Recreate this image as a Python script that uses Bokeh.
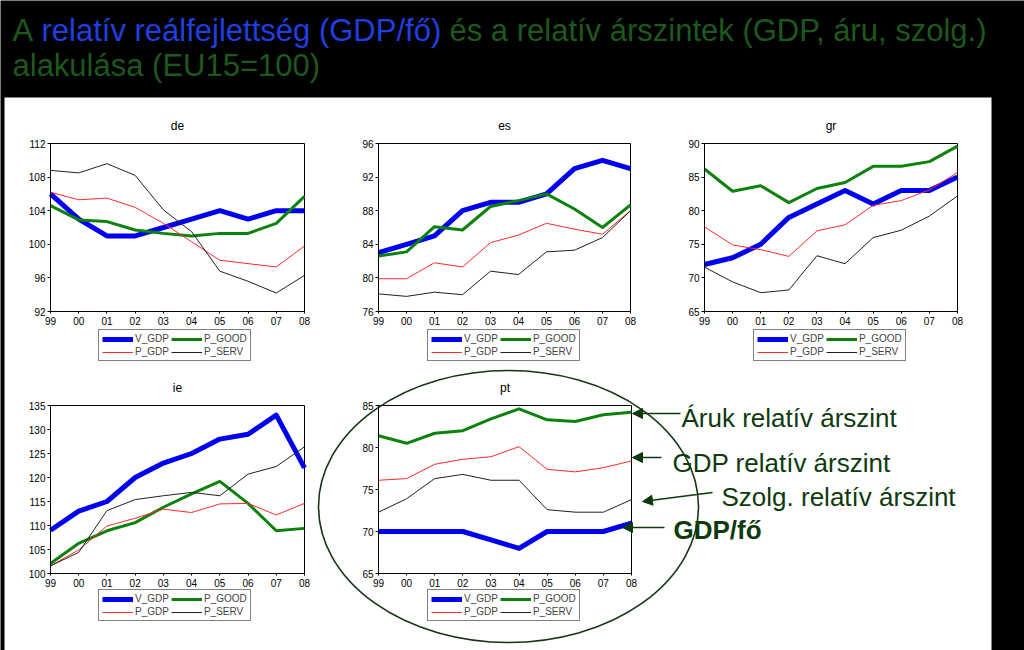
from bokeh.plotting import figure
from bokeh.models import (Range1d, LinearAxis, FixedTicker, Legend, LegendItem,
                          Arrow, NormalHead)
from bokeh.core.properties import value
from bokeh.embed import file_html
from bokeh.resources import INLINE

# ---------------- data ----------------
years = [1999, 2000, 2001, 2002, 2003, 2004, 2005, 2006, 2007, 2008]
year_labels = ["99", "00", "01", "02", "03", "04", "05", "06", "07", "08"]

series_names = ["V_GDP", "P_GOOD", "P_GDP", "P_SERV"]

de_v_gdp = [106, 103, 101, 101, 102, 103, 104, 103, 104, 104]
de_p_good = [104.6, 102.9, 102.7, 101.7, 101.3, 101.0, 101.3, 101.3, 102.5, 105.7]
de_p_gdp = [106.2, 105.3, 105.5, 104.4, 102.5, 100.3, 98.1, 97.7, 97.3, 99.8]
de_p_serv = [108.8, 108.5, 109.6, 108.2, 104.1, 101.5, 96.8, 95.6, 94.2, 96.3]

es_v_gdp = [83, 84, 85, 88, 89, 89, 90, 93, 94, 93]
es_p_good = [82.6, 83.1, 86.1, 85.7, 88.5, 89.2, 90.0, 88.2, 86.0, 88.7]
es_p_gdp = [79.9, 79.9, 81.8, 81.3, 84.2, 85.1, 86.5, 85.8, 85.2, 88.0]
es_p_serv = [78.1, 77.8, 78.3, 78.0, 80.8, 80.4, 83.1, 83.3, 84.8, 88.0]

gr_v_gdp = [72, 73, 75, 79, 81, 83, 81, 83, 83, 85]
gr_p_good = [86.2, 82.9, 83.7, 81.2, 83.3, 84.2, 86.6, 86.6, 87.3, 89.6]
gr_p_gdp = [77.6, 74.9, 74.2, 73.2, 77.0, 77.9, 80.8, 81.5, 83.1, 85.7]
gr_p_serv = [71.6, 69.4, 67.8, 68.2, 73.3, 72.1, 76.0, 77.1, 79.2, 82.2]

ie_v_gdp = [109, 113, 115, 120, 123, 125, 128, 129, 133, 122]
ie_p_good = [102.1, 106.3, 108.9, 110.6, 113.8, 116.6, 119.2, 114.6, 108.9, 109.4]
ie_p_gdp = [101.6, 104.9, 109.9, 111.5, 113.4, 112.7, 114.5, 114.6, 112.2, 114.6]
ie_p_serv = [101.6, 104.4, 113.1, 115.4, 116.2, 116.9, 116.2, 120.7, 122.3, 126.4]

pt_v_gdp = [70, 70, 70, 70, 69, 68, 70, 70, 70, 71]
pt_p_good = [81.4, 80.5, 81.7, 82.0, 83.4, 84.6, 83.3, 83.1, 83.9, 84.2]
pt_p_gdp = [76.1, 76.3, 78.0, 78.6, 78.9, 80.1, 77.4, 77.1, 77.6, 78.4]
pt_p_serv = [72.3, 73.9, 76.3, 76.8, 76.1, 76.1, 72.6, 72.3, 72.3, 73.8]

countries = ["de", "es", "gr", "ie", "pt"]
country_series = {
    "de": [de_v_gdp, de_p_good, de_p_gdp, de_p_serv],
    "es": [es_v_gdp, es_p_good, es_p_gdp, es_p_serv],
    "gr": [gr_v_gdp, gr_p_good, gr_p_gdp, gr_p_serv],
    "ie": [ie_v_gdp, ie_p_good, ie_p_gdp, ie_p_serv],
    "pt": [pt_v_gdp, pt_p_good, pt_p_gdp, pt_p_serv],
}
y_min = [92, 76, 65, 100, 65]
y_max = [112, 96, 90, 135, 85]
y_step = [4, 4, 5, 5, 5]

title_parts = ["A", "relatív reálfejlettség (GDP/fő)", "és a relatív árszintek (GDP, áru, szolg.)"]
title_line2 = "alakulása (EU15=100)"
note_texts = ["Áruk relatív árszint", "GDP relatív árszint", "Szolg. relatív árszint", "GDP/fő"]

# ---------------- styles / layout ----------------
FONT = "Liberation Sans"
series_colors = ["#0000f0", "#0c820c", "#ff2a2a", "#202020"]
series_widths = [5, 3, 1, 1]
draw_order = [0, 1, 2, 3]
legend_order = [0, 2, 1, 3]   # column-major fill -> rows (V_GDP, P_GOOD), (P_GDP, P_SERV)
DKGREEN = "#0e3a0e"
TITLE_GREEN = "#1d581d"
TITLE_BLUE = "#1f3fe0"

W, H = 1024, 650
FX0, FX1, FY0, FY1 = 0, 1024, 0, 650   # page-pixel extent of the canvas

# plot boxes (left, right, top, bottom) in page pixels
boxes = {
    "de": (50, 304, 143, 311),
    "es": (378, 630, 143, 311),
    "gr": (704, 957, 143, 311),
    "ie": (50, 304, 405, 573),
    "pt": (378, 631, 405, 573),
}
title_y = {"de": 125, "es": 125, "gr": 125, "ie": 387, "pt": 387}
legend_left = {"de": 98, "es": 427, "gr": 753, "ie": 98, "pt": 427}
legend_bottom = {"de": 361, "es": 361, "gr": 361, "ie": 621, "pt": 621}

p = figure(width=W, height=H, x_range=Range1d(FX0, FX1), y_range=Range1d(FY1, FY0),
           x_axis_type=None, y_axis_type=None, toolbar_location=None,
           output_backend="svg", min_border=0, min_border_left=0, min_border_right=0,
           min_border_top=0, min_border_bottom=0,
           background_fill_color="black", border_fill_color="black",
           outline_line_color=None)

# white slide area
p.quad(left=[4], right=[991], top=[97], bottom=[650], fill_color="white",
       line_color=None)

xr, yr = {}, {}
for i, c in enumerate(countries):
    L, R, T, B = boxes[c]
    kx = (years[-1] - years[0]) / (R - L)
    xr[c + "_x"] = Range1d(years[0] - (L - FX0) * kx, years[-1] + (FX1 - R) * kx)
    ky = (y_max[i] - y_min[i]) / (B - T)
    yr[c + "_y"] = Range1d(y_min[i] - (FY1 - B) * ky, y_max[i] + (T - FY0) * ky)
p.extra_x_ranges = xr
p.extra_y_ranges = yr

for i, c in enumerate(countries):
    xn, yn = c + "_x", c + "_y"
    L, R, T, B = boxes[c]
    # frame box
    p.quad(left=[years[0]], right=[years[-1]], bottom=[y_min[i]], top=[y_max[i]],
           fill_color=None, line_color="black", line_width=1,
           x_range_name=xn, y_range_name=yn)
    rends = {}
    for k in draw_order:
        rends[k] = p.line(years, country_series[c][k], line_color=series_colors[k],
                          line_width=series_widths[k], line_join="round",
                          x_range_name=xn, y_range_name=yn)
    xax = LinearAxis(x_range_name=xn, y_range_name=yn, fixed_location=y_min[i],
                     bounds=(years[0], years[-1]), ticker=FixedTicker(ticks=years),
                     major_label_overrides=dict(zip(years, year_labels)),
                     major_tick_in=0, major_tick_out=2, minor_tick_in=0, minor_tick_out=0,
                     major_label_standoff=3, major_label_text_font=FONT,
                     major_label_text_font_size="10px", major_label_text_color="black",
                     axis_line_color="black", major_tick_line_color="black")
    p.add_layout(xax, "below")
    yticks = list(range(y_min[i], y_max[i] + 1, y_step[i]))
    yax = LinearAxis(x_range_name=xn, y_range_name=yn, fixed_location=years[0],
                     bounds=(y_min[i], y_max[i]), ticker=FixedTicker(ticks=yticks),
                     major_tick_in=0, major_tick_out=3, minor_tick_in=0, minor_tick_out=0,
                     major_label_standoff=2, major_label_text_font=FONT,
                     major_label_text_font_size="10px", major_label_text_color="black",
                     axis_line_color="black", major_tick_line_color="black")
    p.add_layout(yax, "left")
    # panel title
    p.text(x=[(L + R) / 2], y=[title_y[c]], text=[c], text_align="center",
           text_baseline="middle", text_font=value(FONT), text_font_size="12px",
           text_color="black")
    leg = Legend(items=[LegendItem(label=series_names[k], renderers=[rends[k]]) for k in legend_order],
                 location=(legend_left[c] - FX0, FY1 - legend_bottom[c]),
                 orientation="vertical", ncols=2,
                 border_line_color="black", border_line_width=1,
                 background_fill_color="white", background_fill_alpha=1,
                 label_text_font=FONT, label_text_font_size="10px",
                 glyph_width=31, glyph_height=10, label_height=10, label_standoff=2,
                 padding=3, spacing=2, margin=0)
    p.add_layout(leg)

# ellipse around the pt panel
p.ellipse(x=[508], y=[506], width=[380], height=[272], fill_color=None,
          line_color="#163516", line_width=1.6)

# titles (vertical middle of each line)
p.text(x=[12], y=[30], text=[title_parts[0]], text_font=value(FONT), text_font_size="31px",
       text_color=TITLE_GREEN, text_baseline="middle")
p.text(x=[41], y=[30], text=[title_parts[1]], text_font=value(FONT), text_font_size="31px",
       text_color=TITLE_BLUE, text_baseline="middle")
p.text(x=[449], y=[30], text=[title_parts[2]], text_font=value(FONT), text_font_size="31px",
       text_color=TITLE_GREEN, text_baseline="middle")
p.text(x=[12], y=[65], text=[title_line2], text_font=value(FONT), text_font_size="31px",
       text_color=TITLE_GREEN, text_baseline="middle")

# annotation texts and arrows
note_x = [681, 672, 721, 673]
note_y = [417, 462, 496, 529]
note_style = ["normal", "normal", "normal", "bold"]
for t, x, y, s in zip(note_texts, note_x, note_y, note_style):
    p.text(x=[x], y=[y], text=[t], text_font=value(FONT), text_font_size="26px",
           text_font_style=s, text_color=DKGREEN, text_baseline="middle")

arrows = [((680, 413), (632, 413)), ((661, 457), (632, 457)),
          ((712, 492), (642, 501)), ((664, 527), (622, 527))]
for (x0, y0), (x1, y1) in arrows:
    p.add_layout(Arrow(end=NormalHead(size=10, fill_color=DKGREEN, line_color=DKGREEN),
                       x_start=x0, y_start=y0, x_end=x1, y_end=y1,
                       line_color=DKGREEN, line_width=1.5))

open("out.html", "w").write(file_html(p, INLINE))
